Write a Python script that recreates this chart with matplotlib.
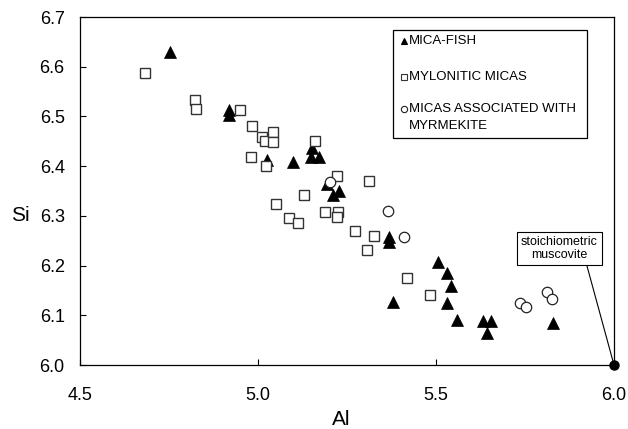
import matplotlib
matplotlib.use("Agg")
import matplotlib.pyplot as plt
from matplotlib.patches import Rectangle
from matplotlib.lines import Line2D

plt.rcParams['font.family'] = ['Liberation Sans', 'DejaVu Sans']

# Mica-fish (filled triangles)
fish_al = [4.753, 4.919, 4.919, 5.024, 5.099, 5.151, 5.148, 5.172, 5.193, 5.210,
           5.228, 5.368, 5.368, 5.380, 5.507, 5.530, 5.541, 5.530, 5.558, 5.633,
           5.654, 5.642, 5.830]
fish_si = [6.630, 6.513, 6.503, 6.412, 6.409, 6.436, 6.419, 6.419, 6.365, 6.342,
           6.349, 6.257, 6.248, 6.127, 6.208, 6.186, 6.158, 6.125, 6.091, 6.089,
           6.089, 6.065, 6.084]

# Mylonitic micas (open squares)
myl_al = [4.683, 4.824, 4.826, 4.949, 4.982, 5.010, 5.020, 5.041, 5.041, 4.979,
          5.022, 5.161, 5.221, 5.130, 5.050, 5.088, 5.113, 5.188, 5.226, 5.221,
          5.312, 5.272, 5.326, 5.305, 5.419, 5.483]
myl_si = [6.588, 6.533, 6.515, 6.512, 6.481, 6.459, 6.450, 6.469, 6.449, 6.418,
          6.401, 6.451, 6.380, 6.342, 6.323, 6.295, 6.285, 6.307, 6.307, 6.297,
          6.370, 6.270, 6.260, 6.231, 6.174, 6.141]

# Micas associated with myrmekite (open circles)
myr_al = [5.202, 5.364, 5.410, 5.736, 5.752, 5.811, 5.825]
myr_si = [6.369, 6.310, 6.258, 6.125, 6.117, 6.147, 6.132]

# Stoichiometric muscovite
musc_al = [6.0]
musc_si = [6.0]

legend_labels = ["MICA-FISH", "MYLONITIC MICAS", "MICAS ASSOCIATED WITH", "MYRMEKITE"]
xticks = [4.5, 5.0, 5.5, 6.0]
yticks = [6.0, 6.1, 6.2, 6.3, 6.4, 6.5, 6.6, 6.7]

fig = plt.figure(figsize=(6.28, 4.29), dpi=100)
ax = fig.add_axes([80/628, 1-365/429, 534/628, 348/429])

ax.plot(fish_al, fish_si, linestyle='none', marker='^', markersize=8.5,
        markerfacecolor='black', markeredgecolor='black', markeredgewidth=0.5, zorder=3)
ax.plot(myl_al, myl_si, linestyle='none', marker='s', markersize=7.2,
        markerfacecolor='white', markeredgecolor='#333333', markeredgewidth=1.0, zorder=4)
ax.plot(myr_al, myr_si, linestyle='none', marker='o', markersize=7.5,
        markerfacecolor='white', markeredgecolor='#222222', markeredgewidth=0.9, zorder=5)
ax.plot(musc_al, musc_si, linestyle='none', marker='o', markersize=6.5,
        markerfacecolor='black', markeredgecolor='black', clip_on=False, zorder=6)

ax.set_xlim(4.5, 6.0)
ax.set_ylim(6.0, 6.7)
ax.set_xticks(xticks)
ax.set_xticklabels([f"{v:.1f}" for v in xticks])
ax.set_yticks(yticks)
ax.set_yticklabels([f"{v:.1f}" for v in yticks])
ax.tick_params(direction='in', length=4, width=0.8, labelsize=13)
ax.tick_params(axis='x', pad=15.5)
ax.tick_params(axis='y', pad=11)
for s in ax.spines.values():
    s.set_linewidth(0.9)
    s.set_color('black')

ax.set_xlabel('Al', fontsize=15)
ax.set_ylabel('Si', fontsize=15, rotation=0, ha='center', va='center')
ax.xaxis.set_label_coords(0.49, -0.129)
ax.yaxis.set_label_coords(-0.112, 0.431)

# Legend box drawn manually
ax.add_patch(Rectangle((0.586, 0.652), 0.363, 0.311, transform=ax.transAxes,
                       facecolor='white', edgecolor='black', linewidth=0.9, zorder=7))
mx = 0.607
tx = 0.616
rows = [0.932, 0.827, 0.736]
mk = [('^', 'black', 'black', 5), ('s', 'white', '#333333', 4.5), ('o', 'white', '#222222', 4.5)]
for (m, fc, ec, ms), yy in zip(mk, rows):
    ax.add_line(Line2D([mx], [yy], transform=ax.transAxes, marker=m, markersize=ms,
                       markerfacecolor=fc, markeredgecolor=ec, markeredgewidth=0.8,
                       linestyle='none', zorder=8))
for lab, yy in zip(legend_labels, rows + [0.687]):
    ax.text(tx, yy, lab, transform=ax.transAxes, fontsize=9.5, ha='left', va='center', zorder=8)

ax.annotate('stoichiometric\nmuscovite', xy=(6.0, 6.0), xytext=(5.847, 6.234),
            textcoords='data', fontsize=9, ha='center', va='center', linespacing=1.1,
            bbox=dict(boxstyle='square,pad=0.3', facecolor='white', edgecolor='black', linewidth=0.8),
            arrowprops=dict(arrowstyle='-', color='black', linewidth=0.8, relpos=(0.84, 0),
                            shrinkA=0, shrinkB=0), zorder=8)

fig.savefig('out.png', dpi=100)
